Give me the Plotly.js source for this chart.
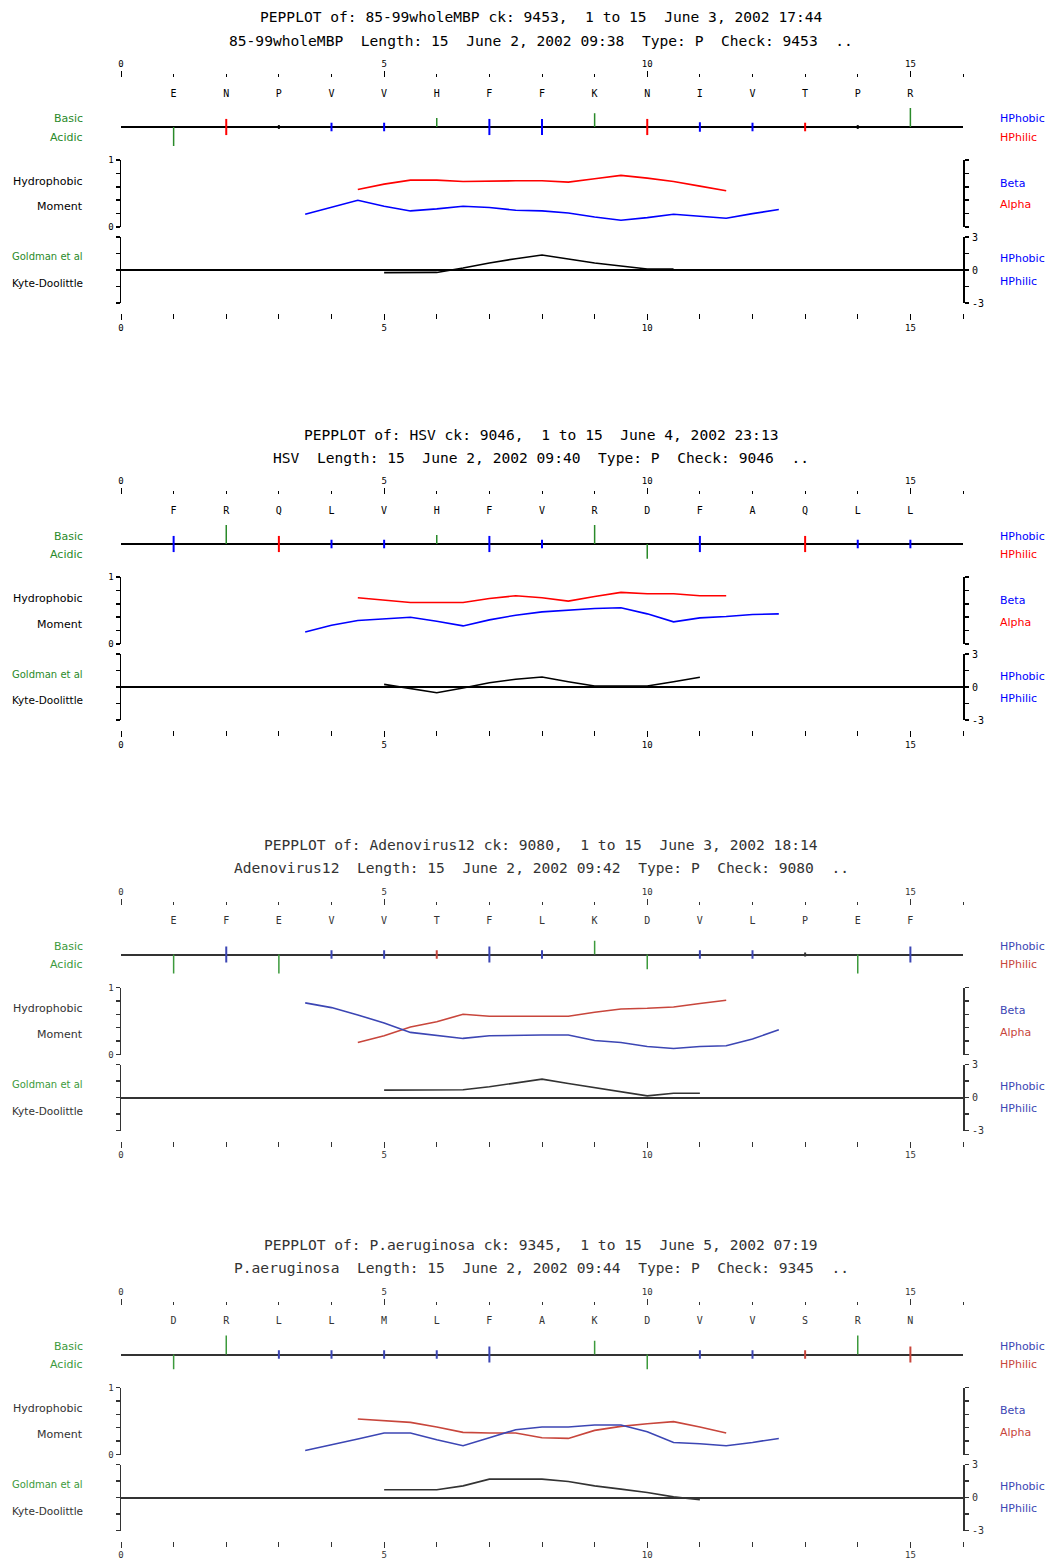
<!DOCTYPE html>
<html><head><meta charset="utf-8">
<script src="https://cdn.plot.ly/plotly-3.0.1.min.js"></script>
<style>html,body{margin:0;padding:0;background:#fff}</style>
</head><body><div id="chart" style="width:1049px;height:1560px"></div>
<script>
// ---------- residue property table (mark magnitudes) ----------
const aaLetters  = ['R','K','H','E','D','F','N','Q','V','I','L','Y','T','M','P','A','S','G','W'];
const aaCharge   = [2.0,1.45,0.95,-2.0,-1.55,0,0,0,0,0,0,0,0,0,0,0,0,0,0];
const aaHydro    = [0,0,0,0,0,0.85,0.85,0.85,0.45,0.5,0.45,0.45,0.45,0.45,0.2,0,0.45,0.45,0.85];
const aaHydroCls = ['','','','','','b','r','r','b','b','b','b','r','b','k','','r','r','b'];

// ---------- panel 1 ----------
const title1a = 'PEPPLOT of: 85-99wholeMBP ck: 9453,  1 to 15  June 3, 2002 17:44';
const title1b = '85-99wholeMBP  Length: 15  June 2, 2002 09:38  Type: P  Check: 9453  ..';
const seq1 = ['E','N','P','V','V','H','F','F','K','N','I','V','T','P','R'];
const alpha1 = [0.56,0.64,0.70,0.70,0.68,0.69,0.69,0.69,0.67,0.72,0.77,0.73,0.68,0.61,0.54];
const beta1  = [0.19,0.29,0.40,0.31,0.24,0.27,0.31,0.29,0.25,0.24,0.21,0.15,0.10,0.14,0.19,0.16,0.13,0.20,0.26];
const kdPos1 = [5,5.5,6,6.5,7,7.5,8,8.5,9,9.5,10,10.5];
const kd1    = [-0.24,-0.24,-0.22,0.18,0.64,1.03,1.36,1.0,0.64,0.36,0.09,0.09];

// ---------- panel 2 ----------
const title2a = 'PEPPLOT of: HSV ck: 9046,  1 to 15  June 4, 2002 23:13';
const title2b = 'HSV  Length: 15  June 2, 2002 09:40  Type: P  Check: 9046  ..';
const seq2 = ['F','R','Q','L','V','H','F','V','R','D','F','A','Q','L','L'];
const alpha2 = [0.69,0.66,0.62,0.62,0.62,0.68,0.72,0.69,0.64,0.71,0.77,0.75,0.75,0.72,0.72];
const beta2  = [0.18,0.28,0.35,0.38,0.40,0.34,0.27,0.36,0.43,0.48,0.51,0.53,0.54,0.45,0.33,0.39,0.41,0.44,0.45];
const kdPos2 = [5,5.5,6,6.5,7,7.5,8,8.5,9,9.5,10,10.5,11];
const kd2    = [0.24,-0.12,-0.52,-0.09,0.39,0.70,0.91,0.48,0.09,0.09,0.09,0.48,0.88];

// ---------- panel 3 ----------
const title3a = 'PEPPLOT of: Adenovirus12 ck: 9080,  1 to 15  June 3, 2002 18:14';
const title3b = 'Adenovirus12  Length: 15  June 2, 2002 09:42  Type: P  Check: 9080  ..';
const seq3 = ['E','F','E','V','V','T','F','L','K','D','V','L','P','E','F'];
const alpha3 = [0.18,0.28,0.41,0.49,0.60,0.57,0.57,0.57,0.57,0.63,0.68,0.69,0.71,0.76,0.81];
const beta3  = [0.77,0.70,0.59,0.47,0.33,0.28,0.24,0.28,0.29,0.29,0.29,0.21,0.18,0.12,0.09,0.12,0.13,0.23,0.37];
const kdPos3 = [5,5.5,6,6.5,7,7.5,8,8.5,9,9.5,10,10.5,11];
const kd3    = [0.67,0.67,0.67,0.70,0.97,1.30,1.67,1.27,0.91,0.52,0.15,0.39,0.39];

// ---------- panel 4 ----------
const title4a = 'PEPPLOT of: P.aeruginosa ck: 9345,  1 to 15  June 5, 2002 07:19';
const title4b = 'P.aeruginosa  Length: 15  June 2, 2002 09:44  Type: P  Check: 9345  ..';
const seq4 = ['D','R','L','L','M','L','F','A','K','D','V','V','S','R','N'];
const alpha4 = [0.53,0.50,0.48,0.41,0.33,0.32,0.32,0.25,0.24,0.36,0.42,0.46,0.49,0.41,0.32];
const beta4  = [0.06,0.14,0.23,0.32,0.32,0.22,0.13,0.25,0.37,0.41,0.41,0.44,0.44,0.34,0.18,0.16,0.13,0.18,0.24];
const kdPos4 = [5,5.5,6,6.5,7,7.5,8,8.5,9,9.5,10,10.5,11];
const kd4    = [0.70,0.70,0.70,1.06,1.67,1.67,1.67,1.45,1.06,0.76,0.45,0.06,-0.21];

// shared window positions and right-hand KD tick labels
const alphaPos = [4.5,5,5.5,6,6.5,7,7.5,8,8.5,9,9.5,10,10.5,11,11.5];
const betaPos  = [3.5,4,4.5,5,5.5,6,6.5,7,7.5,8,8.5,9,9.5,10,10.5,11,11.5,12,12.5];
const kdTicks      = [-3,-1.5,0,1.5,3];
const kdLabelVals  = [3,0,-3];
const kdLabelTexts = ['3','0','-3'];

// ---------- layout helpers ----------
const W = 1049, H = 1560;
const fx = x => x / W, fy = y => 1 - y / H;
const X0 = 121, X1 = 963;
const MONO = 'DejaVu Sans Mono', SANS = 'DejaVu Sans';
const UNIT = 9.5;
const trackTop = 77, trackBase = 127, trackBot = 150;

const panels = [
  {o:0,     t:[title1a,title1b], seq:seq1, a:alpha1, b:beta1, kx:kdPos1, k:kd1},
  {o:417,   t:[title2a,title2b], seq:seq2, a:alpha2, b:beta2, kx:kdPos2, k:kd2},
  {o:827.5, t:[title3a,title3b], seq:seq3, a:alpha3, b:beta3, kx:kdPos3, k:kd3},
  {o:1227.5,t:[title4a,title4b], seq:seq4, a:alpha4, b:beta4, kx:kdPos4, k:kd4}
];
const palA = {g:'#2a8a2a', b:'#0000ff', r:'#ff0000', k:'#000000', txt:'#000000'};
const palB = {g:'#3c9a3c', b:'#3c46b4', r:'#c8463c', k:'#333333', txt:'#333333'};

const traces = [];
const layout = {
  width: W, height: H, margin:{l:0,r:0,t:0,b:0},
  paper_bgcolor:'#ffffff', plot_bgcolor:'rgba(0,0,0,0)',
  showlegend:false, annotations:[]
};
const key = (p,n) => p + 'axis' + (n === 1 ? '' : n);
const ref = (p,n) => p + (n === 1 ? '' : n);

function ann(text, x, y, xanchor, size, color, family) {
  layout.annotations.push({text, x: fx(x), y: fy(y), xref:'paper', yref:'paper',
    xanchor, yanchor:'middle', showarrow:false,
    font:{family: family || SANS, size, color}});
}

panels.forEach((P, i) => {
  const o = P.o;
  const pal = i < 2 ? palA : palB;
  const nxT = 2*i+1, nxB = 2*i+2;
  const nyT = 3*i+1, nyM = 3*i+2, nyK = 3*i+3;
  const tickFont = {family: MONO, size: 9, color: pal.txt};
  const xCommon = {domain:[fx(X0), fx(X1)], range:[0,16], anchor:'free',
    showgrid:false, zeroline:false, showline:false, ticks:'outside', tickwidth:1,
    tickcolor:pal.txt, tickmode:'linear', tick0:0, dtick:5, tickfont:tickFont, fixedrange:true};
  layout[key('x',nxT)] = Object.assign({}, xCommon, {side:'top', position: fy(trackTop + o),
    ticklen:6, ticklabelstandoff:0,
    minor:{dtick:1, tick0:0, ticks:'outside', ticklen:3, tickwidth:1, tickcolor:pal.txt, showgrid:false}});
  layout[key('x',nxB)] = Object.assign({}, xCommon, {side:'bottom', position: fy(313 + o),
    ticklen:6, ticklabelstandoff:0,
    minor:{dtick:1, tick0:0, ticks:'outside', ticklen:5, tickwidth:1, tickcolor:pal.txt, showgrid:false}});
  // residue track
  layout[key('y',nyT)] = {domain:[fy(trackBot+o), fy(trackTop+o)],
    range:[-(trackBot-trackBase)/UNIT, (trackBase-trackTop)/UNIT], anchor: ref('x',nxT),
    showgrid:false, showline:false, ticks:'', showticklabels:false,
    zeroline:true, zerolinecolor:pal.k, zerolinewidth:2, fixedrange:true};
  // hydrophobic moment
  layout[key('y',nyM)] = {domain:[fy(227+o), fy(160+o)], range:[0,1], anchor: ref('x',nxT),
    showgrid:false, zeroline:false, showline:true, linecolor:pal.k, linewidth:1.5,
    ticks:'outside', ticklen:4, tickwidth:1.5, tickcolor:pal.k, mirror:'ticks',
    tickmode:'array', tickvals:[0,0.2,0.4,0.6,0.8,1], ticktext:['0','','','','','1'],
    tickfont:tickFont, fixedrange:true};
  // Kyte-Doolittle (brackets on both sides)
  layout[key('y',nyK)] = {domain:[fy(303+o), fy(237+o)], range:[-3,3], anchor: ref('x',nxB),
    showgrid:false, zeroline:true, zerolinecolor:pal.k, zerolinewidth:2,
    showline:true, linecolor:pal.k, linewidth:1.5, ticks:'outside', ticklen:4, tickwidth:1.5,
    tickcolor:pal.k, tickmode:'array', tickvals:kdTicks, showticklabels:false, mirror:'ticks',
    fixedrange:true};
  // right-hand KD labels placed on the KD axis scale
  kdLabelVals.forEach((v, j) => {
    layout.annotations.push({text: kdLabelTexts[j], x: fx(970), xref:'paper', y: v, yref: ref('y',nyK),
      xanchor:'left', yanchor:'middle', showarrow:false, font:{family:MONO, size:10, color:pal.txt}});
  });

  // residue marks
  const marks = {g:{x:[],y:[]}, b:{x:[],y:[]}, r:{x:[],y:[]}, k:{x:[],y:[]}};
  P.seq.forEach((aa, j) => {
    const idx = aaLetters.indexOf(aa);
    const pos = j + 1;
    const c = aaCharge[idx];
    if (c !== 0) { marks.g.x.push(pos,pos,null); marks.g.y.push(0,c,null); }
    const h = aaHydro[idx], cls = aaHydroCls[idx];
    if (h > 0 && cls) { marks[cls].x.push(pos,pos,null); marks[cls].y.push(-h,h,null); }
  });
  Object.keys(marks).forEach(c => {
    if (!marks[c].x.length) return;
    traces.push({type:'scatter', mode:'lines', x:marks[c].x, y:marks[c].y,
      xaxis:ref('x',nxT), yaxis:ref('y',nyT), hoverinfo:'skip',
      line:{color:pal[c], width: c === 'g' ? 1.5 : 2}});
  });
  // residue letters
  traces.push({type:'scatter', mode:'text', x:P.seq.map((s,j)=>j+1),
    y:P.seq.map(()=> (trackBase-94)/UNIT), text:P.seq,
    textfont:{family:MONO, size:10, color:pal.txt}, xaxis:ref('x',nxT), yaxis:ref('y',nyT), hoverinfo:'skip'});
  // moments
  traces.push({type:'scatter', mode:'lines', x:alphaPos, y:P.a, xaxis:ref('x',nxT), yaxis:ref('y',nyM),
    line:{color:pal.r, width:1.6}, hoverinfo:'skip'});
  traces.push({type:'scatter', mode:'lines', x:betaPos, y:P.b, xaxis:ref('x',nxT), yaxis:ref('y',nyM),
    line:{color:pal.b, width:1.6}, hoverinfo:'skip'});
  // Kyte-Doolittle profile
  traces.push({type:'scatter', mode:'lines', x:P.kx, y:P.k, xaxis:ref('x',nxB), yaxis:ref('y',nyK),
    line:{color:pal.k, width:1.6}, hoverinfo:'skip'});

  // titles
  const nb = s => s.replace(/ /g, '\u00a0');
  ann(nb(P.t[0]), 541, 17+o, 'center', 14.6, pal.txt, MONO);
  ann(nb(P.t[1]), 541, 40+o, 'center', 14.6, pal.txt, MONO);
  // side labels
  ann('Basic', 85, 119+o, 'right', 11, pal.g);
  ann('Acidic', 85, 137+o, 'right', 11, pal.g);
  ann('Hydrophobic', 85, 181+o, 'right', 11, pal.txt);
  ann('Moment', 85, 207+o, 'right', 11, pal.txt);
  ann('Goldman et al', 85, 257+o, 'right', 10, pal.g);
  ann('Kyte-Doolittle', 85, 283+o, 'right', 10.5, pal.txt);
  ann('HPhobic', 998, 119+o, 'left', 11, pal.b);
  ann('HPhilic', 998, 137+o, 'left', 11, pal.r);
  ann('Beta', 998, 183+o, 'left', 11, pal.b);
  ann('Alpha', 998, 205+o, 'left', 11, pal.r);
  ann('HPhobic', 998, 259+o, 'left', 11, pal.b);
  ann('HPhilic', 998, 281+o, 'left', 11, pal.b);
});

Plotly.newPlot('chart', traces, layout, {staticPlot:true, displayModeBar:false});
</script></body></html>
